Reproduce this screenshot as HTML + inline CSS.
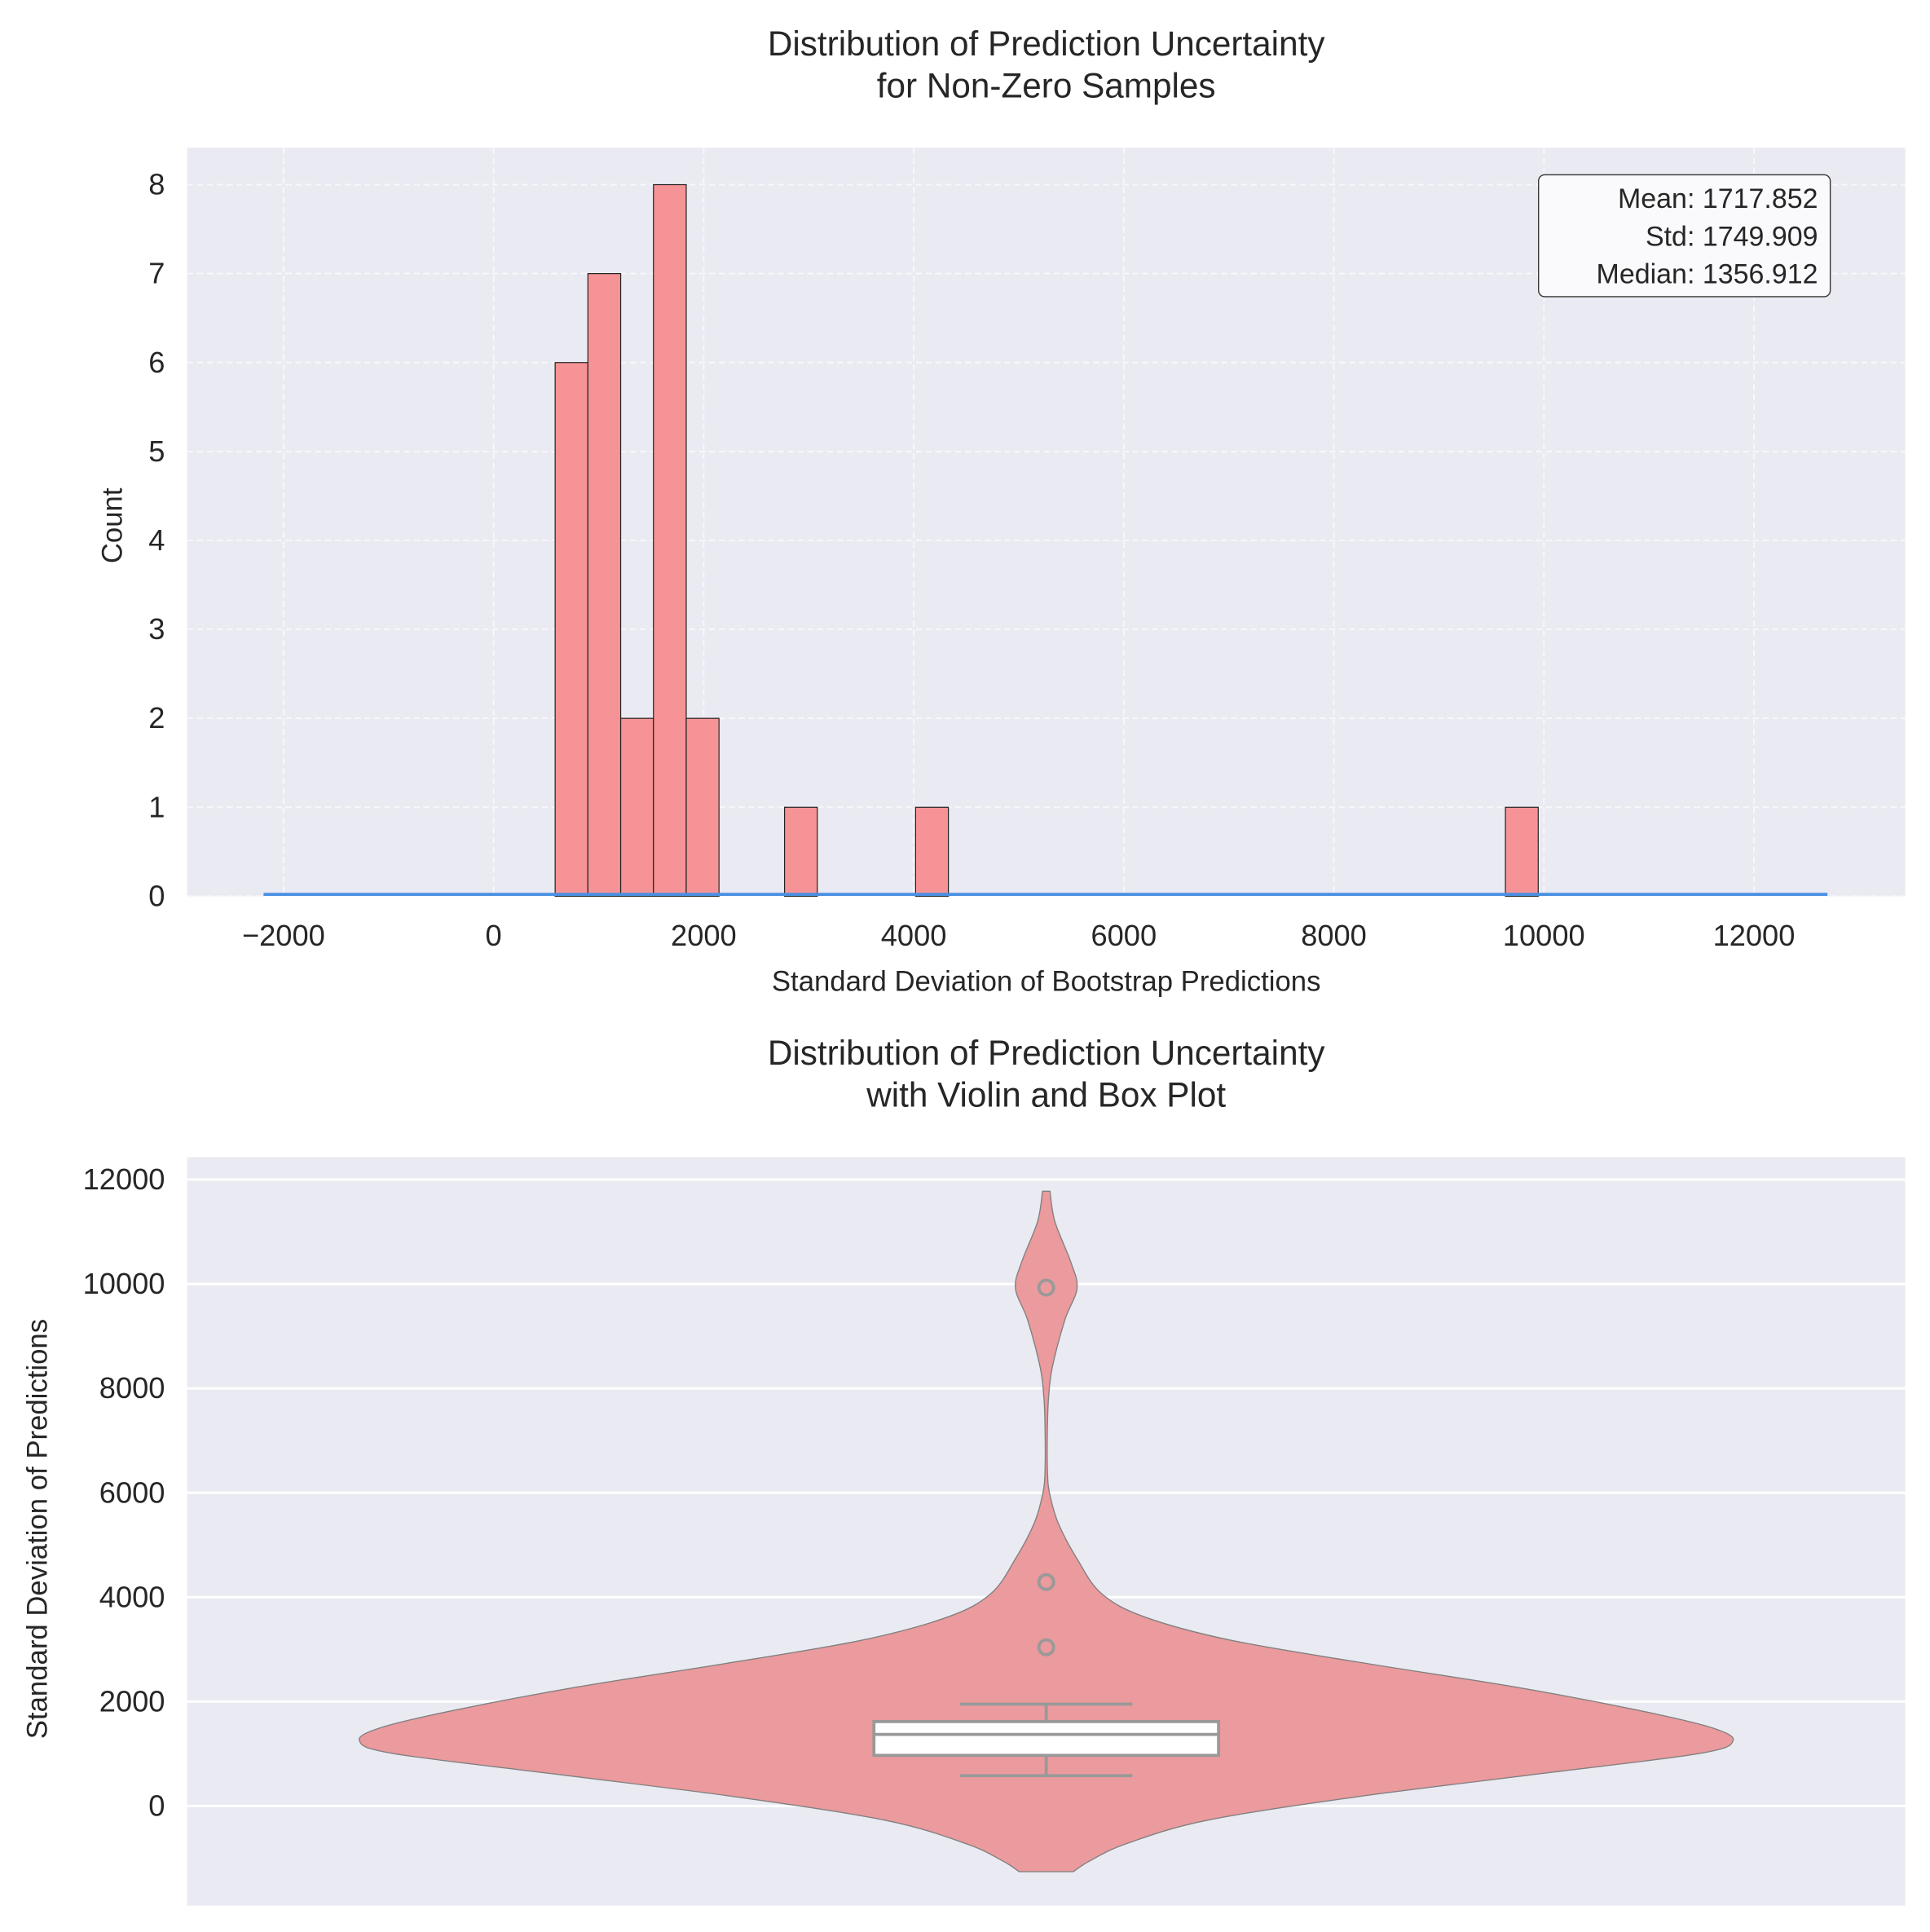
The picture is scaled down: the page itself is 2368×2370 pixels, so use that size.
<!DOCTYPE html>
<html><head><meta charset="utf-8"><style>
html,body{margin:0;padding:0;background:#fff}
svg{display:block;font-family:"Liberation Sans",Arial,sans-serif}
</style></head><body>
<svg id="chart" width="2368" height="2370" viewBox="0 0 1568 1569.4" xmlns="http://www.w3.org/2000/svg">
<g id="topPanel"></g>
<g id="botPanel"></g>
</svg>
<script>
// ---- histogram data ----
const binStart = 586;
const binWidth = 312;
const histCounts = [6,7,2,8,2,0,0,1,0,0,0,1,0,0,0,0,0,0,0,0,0,0,0,0,0,0,0,0,0,1];
const xTicks = [-2000,0,2000,4000,6000,8000,10000,12000];
const yTicks = [0,1,2,3,4,5,6,7,8];
const kdeRange = [-2190, 12700];
const statLines = ["Mean: 1717.852","Std: 1749.909","Median: 1356.912"];
// ---- violin data ----
const violinVals = [11777,11198,10418,9916,9303,8412,7855,7298,6407,5961,5404,4735,4067,3621,3175,2730,2284,1838,1504,1248,1003,613,167,-279,-724,-1058,-1259];
const violinHalfW = [3,7,20,25,15,5,2,1,1,3,10,25,45,80,150,260,380,480,540,558,530,400,250,130,65,35,22];
const boxStats = {q1:969, med:1370, q3:1616, lo:580, hi:1950};
const outliers = [3040,4290,9930];
const vTicks = [0,2000,4000,6000,8000,10000,12000];

const NS="http://www.w3.org/2000/svg";
const TF=24, TT=28, AT=23;
function mk(parent,tag,attrs,text){const el=document.createElementNS(NS,tag);for(const k in attrs)el.setAttribute(k,attrs[k]);if(text!==undefined)el.textContent=text;parent.appendChild(el);return el;}

// ---- top panel ----
const topG=document.getElementById('topPanel');
const L=152,R=1548,T=120,B=728;
const xs=v=>401+v*0.085333;
const ys=c=>728-c*72.25;
let e=mk(topG,'rect',{x:L,y:T,width:R-L,height:B-T,fill:'#eaeaf2'});


xTicks.forEach(t=>{
  e=mk(topG,'line',{x1:xs(t),x2:xs(t),y1:T,y2:B,stroke:'#f7f7fa','stroke-width':1.3,'stroke-dasharray':'5,3'});
  
  
  e=mk(topG,'text',{x:xs(t),y:B+40,'text-anchor':'middle','font-size':TF,fill:'#262626'},(t<0?'\u2212':'')+Math.abs(t));
  
  
});
yTicks.forEach(t=>{
  e=mk(topG,'line',{x1:L,x2:R,y1:ys(t),y2:ys(t),stroke:'#f7f7fa','stroke-width':1.3,'stroke-dasharray':'5,3'});
  
  
  e=mk(topG,'text',{x:L-18,y:ys(t)+8,'text-anchor':'end','font-size':TF,fill:'#262626'},String(t));
  
  
});
histCounts.forEach((c,i)=>{
  if(!c)return;
  const x0=xs(binStart+i*binWidth),x1=xs(binStart+(i+1)*binWidth);
  e=mk(topG,'rect',{x:x0,y:ys(c),width:x1-x0,height:ys(0)-ys(c),fill:'#f69396',stroke:'#222','stroke-width':0.8});
  
  
});
e=mk(topG,'line',{x1:xs(kdeRange[0]),x2:xs(kdeRange[1]),y1:ys(0)-1.5,y2:ys(0)-1.5,stroke:'#4a90e2','stroke-width':2.5});


e=mk(topG,'rect',{x:1250,y:142,width:237,height:99,rx:5,fill:'#fafafc',stroke:'#333','stroke-width':0.9});


statLines.forEach((s,i)=>{
  e=mk(topG,'text',{x:1477,y:169+i*30.5,'text-anchor':'end','font-size':22.5,fill:'#262626'},s);
  
  
});
e=mk(topG,'text',{x:850,y:45,'text-anchor':'middle','font-size':TT,fill:'#262626'},'Distribution of Prediction Uncertainty');


e=mk(topG,'text',{x:850,y:79,'text-anchor':'middle','font-size':TT,fill:'#262626'},'for Non-Zero Samples');


e=mk(topG,'text',{x:850,y:805,'text-anchor':'middle','font-size':AT,fill:'#262626'},'Standard Deviation of Bootstrap Predictions');


e=mk(topG,'text',{x:0,y:0,'text-anchor':'middle','font-size':AT,fill:'#262626',transform:'translate(99,427) rotate(-90)'},'Count');



// ---- bottom panel ----
const botG=document.getElementById('botPanel');
const BL=152,BR=1548,BT=940,BB=1548,CX=850;
const vy=v=>1467-v*0.0424;
e=mk(botG,'rect',{x:BL,y:BT,width:BR-BL,height:BB-BT,fill:'#eaeaf2'});


vTicks.forEach(t=>{
  e=mk(botG,'line',{x1:BL,x2:BR,y1:vy(t),y2:vy(t),stroke:'#fff','stroke-width':2});
  
  
  e=mk(botG,'text',{x:BL-18,y:vy(t)+8,'text-anchor':'end','font-size':TF,fill:'#262626'},String(t));
  
  
});
function smooth(p){
  let d='M'+p[0][0].toFixed(1)+','+p[0][1].toFixed(1);
  for(let i=0;i<p.length-1;i++){
    const p0=p[Math.max(0,i-1)],p1=p[i],p2=p[i+1],p3=p[Math.min(p.length-1,i+2)];
    const c1=[p1[0]+(p2[0]-p0[0])/6,p1[1]+(p2[1]-p0[1])/6];
    const c2=[p2[0]-(p3[0]-p1[0])/6,p2[1]-(p3[1]-p1[1])/6];
    d+=' C'+c1[0].toFixed(1)+','+c1[1].toFixed(1)+' '+c2[0].toFixed(1)+','+c2[1].toFixed(1)+' '+p2[0].toFixed(1)+','+p2[1].toFixed(1);
  }
  return d;
}
const rightPts=violinVals.map((v,i)=>[CX+violinHalfW[i],vy(v)]);
const leftPts=violinVals.map((v,i)=>[CX-violinHalfW[i],vy(v)]).reverse();
let vd=smooth(rightPts)+' L'+leftPts[0][0].toFixed(1)+','+leftPts[0][1].toFixed(1)+' '+smooth(leftPts).slice(1).replace(/^[^C]*/,'')+' Z';
e=mk(botG,'path',{d:vd,fill:'#eb9a9d',stroke:'#808080','stroke-width':0.9,'stroke-linejoin':'round'});


const g='#999';
e=mk(botG,'line',{x1:CX,x2:CX,y1:vy(boxStats.hi),y2:vy(boxStats.q3),stroke:g,'stroke-width':2.5});


e=mk(botG,'line',{x1:CX,x2:CX,y1:vy(boxStats.q1),y2:vy(boxStats.lo),stroke:g,'stroke-width':2.5});


e=mk(botG,'line',{x1:780,x2:920,y1:vy(boxStats.hi),y2:vy(boxStats.hi),stroke:g,'stroke-width':2.5});


e=mk(botG,'line',{x1:780,x2:920,y1:vy(boxStats.lo),y2:vy(boxStats.lo),stroke:g,'stroke-width':2.5});


e=mk(botG,'rect',{x:710,y:vy(boxStats.q3),width:280,height:vy(boxStats.q1)-vy(boxStats.q3),fill:'#fff',stroke:g,'stroke-width':2.5});


e=mk(botG,'line',{x1:710,x2:990,y1:vy(boxStats.med),y2:vy(boxStats.med),stroke:g,'stroke-width':2.5});


outliers.forEach(o=>{
  e=mk(botG,'circle',{cx:CX,cy:vy(o),r:6,fill:'none',stroke:g,'stroke-width':2.5});
  
  
});
e=mk(botG,'text',{x:850,y:865,'text-anchor':'middle','font-size':TT,fill:'#262626'},'Distribution of Prediction Uncertainty');


e=mk(botG,'text',{x:850,y:899,'text-anchor':'middle','font-size':TT,fill:'#262626'},'with Violin and Box Plot');


e=mk(botG,'text',{x:0,y:0,'text-anchor':'middle','font-size':AT,fill:'#262626',transform:'translate(38,1242) rotate(-90)'},'Standard Deviation of Predictions');


</script>
</body></html>
